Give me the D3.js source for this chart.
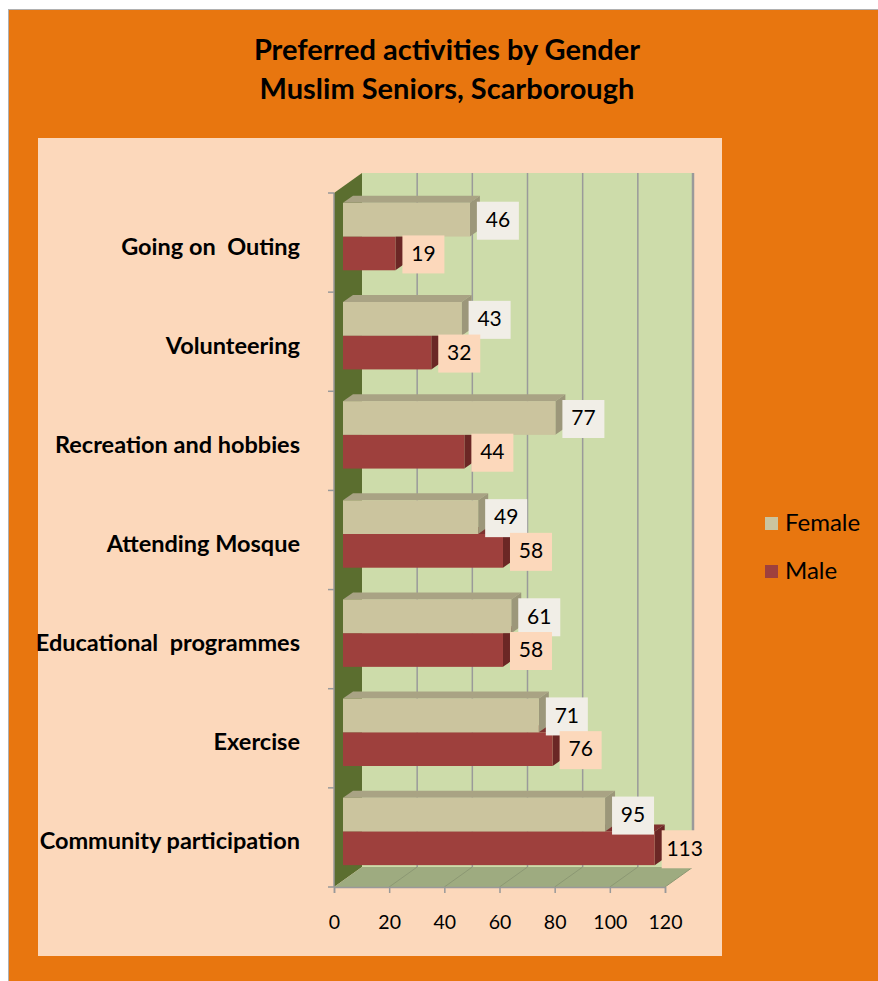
<!DOCTYPE html>
<html>
<head>
<meta charset="utf-8">
<script src="https://cdn.jsdelivr.net/npm/d3@7"></script>
<style>
  body { margin: 0; background: #fff; }
  text { font-family: Lato, "Open Sans", sans-serif; }
</style>
</head>
<body>
<svg width="878" height="981"></svg>
<script>
// data
var categories = ["Going on  Outing", "Volunteering", "Recreation and hobbies", "Attending Mosque",
                  "Educational  programmes", "Exercise", "Community participation"];
var female = [46, 43, 77, 49, 61, 71, 95];
var male = [19, 32, 44, 58, 58, 76, 113];
var seriesNames = ["Female", "Male"];
var xTicks = [0, 20, 40, 60, 80, 100, 120];
var titleLines = ["Preferred activities by Gender", "Muslim Seniors, Scarborough"];

var svg = d3.select("svg");

// 3d offsets
var wall = {dx: 28, dy: -20};     // depth of walls / floor
var barPos = {dx: 9, dy: -6};     // where bars sit in depth
var barDepth = {dx: 10, dy: -7};  // thickness of bars

var colors = {
  Female: {front: "#cbc49e", top: "#a9a384", side: "#9c977a", label: "#f1eee7"},
  Male:   {front: "#9e403d", top: "#7f312f", side: "#6b2725", label: "#fcd8bb"}
};

// scales (front plane)
var x = d3.scaleLinear().domain([0, 120]).range([334, 665]);
var y = d3.scaleBand().domain(categories).range([193, 887]).paddingInner(0.32).paddingOuter(0.16);
var ySub = d3.scaleBand().domain(seriesNames).range([0, y.bandwidth()]);

// frame
svg.append("rect").attr("x", 8.5).attr("y", 9.5).attr("width", 880).attr("height", 980)
  .attr("fill", "#e8760f").attr("stroke", "#b0b0b0").attr("stroke-width", 1);
svg.append("rect").attr("x", 38).attr("y", 138).attr("width", 684).attr("height", 818)
  .attr("fill", "#fcd8bb");

// title
svg.append("g").selectAll("text").data(titleLines).enter().append("text")
  .attr("x", 447).attr("y", function (d, i) { return 60 + i * 39; })
  .attr("text-anchor", "middle").attr("font-size", 29).attr("font-weight", "bold")
  .text(function (d) { return d; });

var y0 = y.range()[0], y1 = y.range()[1];
var x0 = x(0), x1 = x(120);

function poly(pts) { return "M" + pts.map(function (p) { return p.join(","); }).join("L") + "Z"; }

// back wall
svg.append("path")
  .attr("d", poly([[x0 + wall.dx, y0 + wall.dy], [x1 + wall.dx, y0 + wall.dy], [x1 + wall.dx, y1 + wall.dy], [x0 + wall.dx, y1 + wall.dy]]))
  .attr("fill", "#cddcaa");
// left wall
svg.append("path")
  .attr("d", poly([[x0, y0], [x0 + wall.dx, y0 + wall.dy], [x0 + wall.dx, y1 + wall.dy], [x0, y1]]))
  .attr("fill", "#5b6e2f");
// floor
svg.append("path")
  .attr("d", poly([[x0, y1], [x1, y1], [x1 + wall.dx, y1 + wall.dy], [x0 + wall.dx, y1 + wall.dy]]))
  .attr("fill", "#9eab80");

// gridlines on back wall and floor
var grid = svg.append("g");
grid.selectAll(".gw").data(xTicks.slice(1)).enter().append("line")
  .attr("x1", function (d) { return x(d) + wall.dx; }).attr("x2", function (d) { return x(d) + wall.dx; })
  .attr("y1", y0 + wall.dy).attr("y2", y1 + wall.dy)
  .attr("stroke", "#9a9a9a").attr("stroke-width", function (d) { return d === 120 ? 2.5 : 1.5; });
grid.selectAll(".gf").data(xTicks.slice(1)).enter().append("line")
  .attr("x1", function (d) { return x(d); }).attr("x2", function (d) { return x(d) + wall.dx; })
  .attr("y1", y1).attr("y2", y1 + wall.dy)
  .attr("stroke", "#8c9873").attr("stroke-width", 1);

// axes on front plane
var xAxis = svg.append("g").attr("transform", "translate(0," + y1 + ")")
  .call(d3.axisBottom(x).tickValues(xTicks).tickSize(6).tickPadding(22));
xAxis.select(".domain").attr("stroke", "#999").attr("stroke-width", 1.5);
xAxis.selectAll(".tick line").attr("stroke", "#999").attr("stroke-width", 1.5);
xAxis.selectAll("text").attr("font-size", 19.5).attr("font-family", "Lato").attr("fill", "#000");

var bounds = categories.map(function (c) { return y(c) - y.step() * y.paddingOuter(); }).concat([y1]);
var yAx = svg.append("g");
yAx.append("line").attr("x1", x0).attr("x2", x0).attr("y1", y0).attr("y2", y1)
  .attr("stroke", "#999").attr("stroke-width", 1.5);
yAx.selectAll(".yt").data(bounds).enter().append("line")
  .attr("x1", x0 - 6).attr("x2", x0).attr("y1", function (d) { return d; }).attr("y2", function (d) { return d; })
  .attr("stroke", "#999").attr("stroke-width", 1.5);

// category labels
svg.append("g").selectAll("text").data(categories).enter().append("text")
  .attr("x", 300).attr("y", function (d) { return y(d) + y.bandwidth() / 2 + 6; })
  .attr("text-anchor", "end").attr("dominant-baseline", "middle")
  .attr("font-size", 23.5).attr("font-weight", "bold")
  .style("white-space", "pre")
  .text(function (d) { return d; });

// bars
var rows = [];
categories.forEach(function (c, i) {
  rows.push({cat: c, s: "Male", v: male[i]});
  rows.push({cat: c, s: "Female", v: female[i]});
});

var bars = svg.append("g").selectAll("g").data(rows).enter().append("g");
function bx(v) { return x(v) + barPos.dx; }
function by(d) { return y(d.cat) + ySub(d.s) + barPos.dy; }

bars.each(function (d) {
  var g = d3.select(this);
  var l = bx(0), r = bx(d.v), t = by(d), b = t + ySub.bandwidth();
  var c = colors[d.s];
  g.append("path").attr("d", poly([[l, t], [r, t], [r + barDepth.dx, t + barDepth.dy], [l + barDepth.dx, t + barDepth.dy]]))
    .attr("fill", c.top);
  g.append("path").attr("d", poly([[r, t], [r + barDepth.dx, t + barDepth.dy], [r + barDepth.dx, b + barDepth.dy], [r, b]]))
    .attr("fill", c.side);
  g.append("rect").attr("x", l).attr("y", t).attr("width", r - l).attr("height", b - t)
    .attr("fill", c.front);
});

// value labels
var labelRows = rows.filter(function (d) { return d.s === "Female"; })
  .concat(rows.filter(function (d) { return d.s === "Male"; }));
var labels = svg.append("g").selectAll("g").data(labelRows).enter().append("g")
  .attr("transform", function (d) {
    return "translate(" + (bx(d.v) + 7) + "," + (by(d) + ySub.bandwidth() / 2 + 1) + ")";
  });
labels.append("rect")
  .attr("x", 0).attr("y", -19)
  .attr("width", function (d) { return d.v >= 100 ? 46 : 42; }).attr("height", 38)
  .attr("fill", function (d) { return colors[d.s].label; });
labels.append("text")
  .attr("x", function (d) { return d.v >= 100 ? 23 : 21; }).attr("y", 1)
  .attr("text-anchor", "middle").attr("dominant-baseline", "middle")
  .attr("font-size", 21)
  .text(function (d) { return d.v; });

// legend
var legend = svg.append("g").selectAll("g").data(seriesNames).enter().append("g")
  .attr("transform", function (d, i) { return "translate(765," + (524 + i * 48) + ")"; });
legend.append("rect").attr("x", 0).attr("y", -7).attr("width", 13).attr("height", 13)
  .attr("fill", function (d) { return colors[d].front; });
legend.append("text").attr("x", 20).attr("y", 1).attr("dominant-baseline", "middle")
  .attr("font-size", 24).text(function (d) { return d; });
</script>
</body>
</html>
